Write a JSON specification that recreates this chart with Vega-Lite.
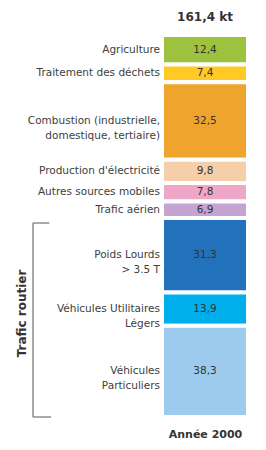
{
  "$schema": "https://vega.github.io/schema/vega-lite/v6.json",
  "width": 86,
  "height": 382,
  "autosize": {"type": "none"},
  "padding": {"left": 162, "top": 35, "right": 18, "bottom": 33},
  "background": "white",
  "config": {
    "view": {"stroke": null},
    "locale": {"number": {"decimal": ",", "thousands": " ", "grouping": [3], "currency": ["", " €"]}},
    "text": {"font": "DejaVu Sans"},
    "title": {"font": "DejaVu Sans"},
    "axis": {"titleFont": "DejaVu Sans"}
  },
  "title": {"text": "161,4 kt", "fontSize": 12, "fontWeight": "bold", "color": "#333333", "anchor": "middle", "offset": 9},
  "datasets": {
    "sources": [
      {"source": "Agriculture", "label": "Agriculture", "value": 12.4, "order": 1, "group": "Autres"},
      {"source": "Traitement des déchets", "label": "Traitement des déchets", "value": 7.4, "order": 2, "group": "Autres"},
      {"source": "Combustion", "label": "Combustion (industrielle,\ndomestique, tertiaire)", "value": 32.5, "order": 3, "group": "Autres"},
      {"source": "Production d'électricité", "label": "Production d'électricité", "value": 9.8, "order": 4, "group": "Autres"},
      {"source": "Autres sources mobiles", "label": "Autres sources mobiles", "value": 7.8, "order": 5, "group": "Autres"},
      {"source": "Trafic aérien", "label": "Trafic aérien", "value": 6.9, "order": 6, "group": "Autres"},
      {"source": "Poids Lourds", "label": "Poids Lourds\n> 3.5 T", "value": 31.3, "order": 7, "group": "Trafic routier"},
      {"source": "Véhicules Utilitaires Légers", "label": "Véhicules Utilitaires\nLégers", "value": 13.9, "order": 8, "group": "Trafic routier"},
      {"source": "Véhicules Particuliers", "label": "Véhicules\nParticuliers", "value": 38.3, "order": 9, "group": "Trafic routier"}
    ]
  },
  "data": {"name": "sources"},
  "layer": [
    {
      "transform": [
        {"stack": "value", "groupby": [], "sort": [{"field": "order", "order": "ascending"}], "as": ["s0", "s1"]}
      ],
      "mark": {"type": "bar", "stroke": "white", "strokeWidth": 4},
      "encoding": {
        "x": {"datum": 0, "type": "quantitative", "scale": {"domain": [0, 1]},
              "axis": {"title": "Année 2000", "labels": false, "ticks": false, "domain": false, "grid": false, "titleFontSize": 11, "titleFontWeight": "bold", "titleColor": "#333333", "titlePadding": 11}},
        "x2": {"datum": 1},
        "y": {"field": "s0", "type": "quantitative", "scale": {"domain": [0, 160.3], "reverse": true, "nice": false}, "axis": null},
        "y2": {"field": "s1"},
        "color": {"field": "source", "type": "nominal", "legend": null,
                  "scale": {"domain": ["Agriculture", "Traitement des déchets", "Combustion", "Production d'électricité", "Autres sources mobiles", "Trafic aérien", "Poids Lourds", "Véhicules Utilitaires Légers", "Véhicules Particuliers"],
                            "range": ["#9DC23D", "#FFC926", "#EFA42D", "#F5CFA9", "#EFA7C8", "#C6A4D2", "#2272BB", "#00AEEC", "#9DCBEE"]}}
      }
    },
    {
      "mark": {"type": "text", "fontSize": 10.5, "color": "#333333", "baseline": "middle", "align": "center"},
      "encoding": {
        "x": {"datum": 0.5, "type": "quantitative", "scale": {"domain": [0, 1]}},
        "y": {"field": "value", "type": "quantitative", "stack": "zero", "bandPosition": 0.5, "scale": {"domain": [0, 160.3], "reverse": true, "nice": false}},
        "order": {"field": "order", "type": "quantitative"},
        "text": {"field": "value", "type": "quantitative", "format": ".1f"}
      }
    },
    {
      "mark": {"type": "text", "fontSize": 10.5, "color": "#404040", "baseline": "middle", "align": "right", "dx": -2, "lineBreak": "\n", "lineHeight": 15},
      "encoding": {
        "x": {"datum": 0, "type": "quantitative", "scale": {"domain": [0, 1]}},
        "y": {"field": "value", "type": "quantitative", "stack": "zero", "bandPosition": 0.5, "scale": {"domain": [0, 160.3], "reverse": true, "nice": false}},
        "order": {"field": "order", "type": "quantitative"},
        "text": {"field": "label", "type": "nominal"}
      }
    },
    {
      "transform": [
        {"aggregate": [{"op": "sum", "field": "value", "as": "total"}, {"op": "min", "field": "order", "as": "ord"}], "groupby": ["group"]}
      ],
      "mark": {"type": "text", "fontSize": 12, "fontWeight": "bold", "color": "#333333", "angle": 270, "baseline": "middle", "align": "center", "dx": 4},
      "encoding": {
        "x": {"datum": -1.63, "type": "quantitative", "scale": {"domain": [0, 1]}},
        "y": {"field": "total", "type": "quantitative", "stack": "zero", "bandPosition": 0.5, "scale": {"domain": [0, 160.3], "reverse": true, "nice": false}},
        "order": {"field": "ord", "type": "quantitative"},
        "text": {"field": "group", "type": "nominal"},
        "opacity": {"condition": {"test": "datum.group === 'Autres'", "value": 0}, "value": 1}
      }
    },
    {
      "transform": [
        {"stack": "value", "groupby": [], "sort": [{"field": "order", "order": "ascending"}], "as": ["s0", "s1"]},
        {"filter": {"field": "group", "equal": "Trafic routier"}},
        {"aggregate": [{"op": "min", "field": "s0", "as": "lo"}, {"op": "max", "field": "s1", "as": "hi"}], "groupby": ["group"]}
      ],
      "layer": [
        {
          "mark": {"type": "rule", "color": "#8C8C8C", "strokeWidth": 1.5, "yOffset": 5},
          "encoding": {
            "x": {"datum": -1.5, "type": "quantitative", "scale": {"domain": [0, 1]}},
            "y": {"field": "lo", "type": "quantitative", "scale": {"domain": [0, 160.3], "reverse": true, "nice": false}},
            "y2": {"field": "hi"}
          }
        },
        {
          "mark": {"type": "rule", "color": "#8C8C8C", "strokeWidth": 1.5, "yOffset": 5},
          "encoding": {
            "x": {"datum": -1.5, "type": "quantitative", "scale": {"domain": [0, 1]}},
            "x2": {"datum": -1.31},
            "y": {"field": "lo", "type": "quantitative", "scale": {"domain": [0, 160.3], "reverse": true, "nice": false}}
          }
        },
        {
          "mark": {"type": "rule", "color": "#8C8C8C", "strokeWidth": 1.5},
          "encoding": {
            "x": {"datum": -1.5, "type": "quantitative", "scale": {"domain": [0, 1]}},
            "x2": {"datum": -1.29},
            "y": {"field": "hi", "type": "quantitative", "scale": {"domain": [0, 160.3], "reverse": true, "nice": false}}
          }
        }
      ]
    }
  ]
}
